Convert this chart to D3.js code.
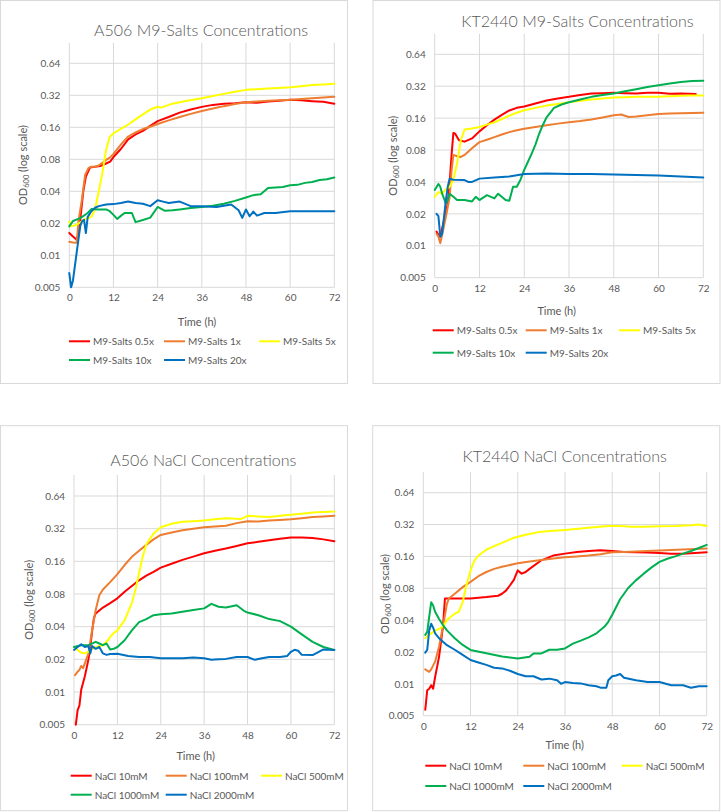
<!DOCTYPE html>
<html><head><meta charset="utf-8">
<script src="https://cdn.jsdelivr.net/npm/d3@7/dist/d3.min.js"></script>
<style>
html,body{margin:0;padding:0;background:#fff;}
svg{display:block;font-family:Lato,"Open Sans",sans-serif;}
</style></head>
<body>
<svg id="chart" width="721" height="812"></svg>
<script>
// ---------- shared axis data ----------
const hourTicks = [0, 12, 24, 36, 48, 60, 72];
const odTicks = [0.005, 0.01, 0.02, 0.04, 0.08, 0.16, 0.32, 0.64];
const odTickLabels = ["0.005", "0.01", "0.02", "0.04", "0.08", "0.16", "0.32", "0.64"];
const titles = ["A506 M9-Salts Concentrations", "KT2440 M9-Salts Concentrations",
                "A506 NaCl Concentrations", "KT2440 NaCl Concentrations"];
const m9Names = ["M9-Salts 0.5x", "M9-Salts 1x", "M9-Salts 5x", "M9-Salts 10x", "M9-Salts 20x"];
const naclNames = ["NaCl 10mM", "NaCl 100mM", "NaCl 500mM", "NaCl 1000mM", "NaCl 2000mM"];
const seriesColors = ["#FF0000", "#ED7D31", "#FFFF00", "#00B050", "#0070C0"];

// ---------- A506 M9-Salts ([hour, OD600]) ----------
const a506M9_05x = [[0,0.0162],[1,0.015],[2,0.014],[2.5,0.016],[3,0.022],[3.8,0.04],[4.5,0.055],[5.6,0.067],[7,0.068],[8.4,0.069],[10,0.073],[11.1,0.076],[12,0.084],[14,0.1],[16,0.123],[18,0.137],[20,0.148],[22,0.165],[24,0.183],[27,0.2],[30,0.22],[33,0.235],[36,0.249],[39,0.26],[42,0.267],[45,0.27],[48,0.275],[51,0.272],[54,0.28],[57,0.285],[60,0.29],[63,0.287],[66,0.282],[69,0.278],[72,0.267]];
const a506M9_1x = [[0,0.0134],[1,0.0132],[2,0.0131],[2.5,0.021],[3.4,0.033],[4.3,0.057],[5.2,0.066],[6,0.068],[7,0.068],[8,0.07],[9,0.074],[10,0.079],[11,0.083],[12,0.09],[14,0.11],[16,0.131],[18,0.143],[20,0.154],[22,0.162],[24,0.172],[27,0.186],[30,0.2],[33,0.214],[36,0.228],[39,0.24],[42,0.253],[45,0.265],[48,0.275],[51,0.28],[54,0.285],[57,0.288],[60,0.29],[63,0.295],[66,0.3],[69,0.305],[72,0.31]];
const a506M9_5x = [[0,0.0207],[0.5,0.0187],[2,0.0194],[4,0.0216],[6,0.023],[7,0.027],[8,0.04],[9,0.06],[10,0.098],[11,0.13],[12,0.14],[14,0.155],[16,0.17],[18,0.19],[20,0.212],[22,0.235],[24,0.25],[25,0.245],[28,0.267],[32,0.285],[36,0.3],[39,0.315],[42,0.33],[45,0.345],[48,0.36],[51,0.365],[54,0.37],[57,0.375],[60,0.38],[63,0.39],[66,0.4],[69,0.405],[72,0.41]];
const a506M9_10x = [[0,0.0187],[1,0.021],[3,0.0224],[5,0.025],[6,0.0272],[8,0.027],[10,0.027],[11,0.026],[12,0.024],[13,0.022],[14,0.0235],[15,0.025],[17,0.025],[18,0.0205],[20,0.0215],[22,0.0226],[24,0.0285],[26,0.0262],[28,0.0265],[30,0.027],[33,0.0278],[36,0.0285],[39,0.0292],[42,0.0306],[45,0.0325],[48,0.035],[50,0.0368],[52,0.0375],[54,0.043],[56,0.0435],[58,0.044],[60,0.0455],[62,0.046],[64,0.048],[66,0.049],[68,0.051],[70,0.052],[72,0.054]];
const a506M9_20x = [[0,0.0068],[0.5,0.005],[1,0.0058],[2,0.0106],[3,0.019],[3.5,0.021],[4,0.0216],[4.5,0.0162],[5,0.023],[6,0.026],[7,0.028],[8,0.029],[10,0.03],[12,0.0303],[14,0.031],[16,0.032],[18,0.031],[20,0.0305],[22,0.029],[24,0.033],[25.5,0.032],[27,0.031],[30,0.032],[33,0.029],[36,0.029],[40,0.0285],[44,0.03],[46,0.0265],[47,0.0225],[48,0.027],[49,0.0233],[50,0.0258],[51,0.0236],[53,0.025],[56,0.025],[60,0.026],[66,0.026],[72,0.026]];

// ---------- KT2440 M9-Salts ----------
const kt2440M9_05x = [[0.5,0.0136],[1,0.0127],[1.5,0.0122],[2.5,0.0175],[3.5,0.025],[4,0.039],[4.5,0.07],[5,0.116],[5.5,0.114],[6.5,0.099],[8,0.096],[10,0.103],[12,0.12],[14,0.137],[16,0.155],[18,0.172],[20,0.189],[22,0.2],[24,0.206],[27,0.22],[30,0.235],[33,0.245],[36,0.254],[39,0.265],[42,0.273],[45,0.275],[48,0.277],[51,0.275],[54,0.273],[57,0.278],[60,0.277],[63,0.272],[66,0.273],[70,0.27]];
const kt2440M9_1x = [[0.5,0.013],[1,0.0122],[1.5,0.0106],[2,0.0127],[3,0.0188],[4,0.0287],[4.5,0.05],[5,0.072],[6,0.07],[7,0.0688],[8,0.072],[10,0.083],[12,0.095],[14,0.1],[16,0.106],[18,0.112],[20,0.118],[22,0.123],[24,0.127],[27,0.132],[30,0.137],[33,0.142],[36,0.146],[39,0.15],[42,0.155],[45,0.162],[48,0.17],[50,0.173],[52,0.164],[54,0.166],[57,0.17],[60,0.175],[63,0.177],[66,0.178],[69,0.179],[72,0.18]];
const kt2440M9_5x = [[0,0.029],[1,0.032],[2,0.031],[3,0.034],[4,0.036],[5,0.042],[6,0.06],[7,0.099],[8,0.125],[10,0.128],[12,0.132],[14,0.139],[16,0.146],[18,0.157],[20,0.169],[22,0.18],[24,0.19],[27,0.2],[30,0.21],[33,0.218],[36,0.226],[39,0.233],[42,0.24],[45,0.245],[48,0.25],[51,0.252],[54,0.254],[57,0.254],[60,0.254],[63,0.257],[66,0.26],[69,0.261],[72,0.262]];
const kt2440M9_10x = [[0,0.0336],[1,0.0383],[1.5,0.036],[2,0.031],[3,0.025],[3.5,0.027],[4,0.031],[5,0.029],[6,0.027],[8,0.027],[10,0.0262],[11,0.029],[12,0.027],[14,0.03],[16,0.028],[17,0.031],[19,0.027],[20,0.0266],[21,0.036],[22,0.036],[23,0.042],[24,0.052],[25,0.062],[26,0.074],[27,0.09],[28,0.114],[29,0.138],[30,0.163],[32,0.2],[34,0.215],[36,0.226],[39,0.24],[42,0.254],[45,0.264],[48,0.273],[51,0.287],[54,0.3],[57,0.315],[60,0.327],[63,0.34],[66,0.35],[69,0.358],[72,0.36]];
const kt2440M9_20x = [[0.5,0.02],[1,0.019],[1.5,0.0122],[2,0.013],[3,0.027],[3.5,0.036],[4,0.043],[5,0.042],[8,0.0417],[9,0.04],[10,0.04],[12,0.043],[16,0.044],[20,0.045],[24,0.0476],[30,0.048],[36,0.0476],[42,0.0475],[48,0.047],[54,0.0465],[60,0.046],[66,0.045],[72,0.044]];

// ---------- A506 NaCl ----------
const a506NaCl_10 = [[0.5,0.005],[1,0.0068],[1.5,0.0075],[2,0.0105],[3,0.014],[4,0.02],[4.5,0.026],[5,0.036],[5.5,0.048],[6,0.053],[8,0.06],[10,0.066],[12,0.073],[14,0.084],[16,0.095],[18,0.107],[20,0.118],[22,0.128],[24,0.14],[27,0.152],[30,0.165],[33,0.177],[36,0.19],[39,0.2],[42,0.21],[45,0.222],[48,0.235],[51,0.242],[54,0.25],[57,0.258],[60,0.265],[63,0.266],[66,0.262],[69,0.255],[72,0.245]];
const a506NaCl_100 = [[0.3,0.0143],[1,0.0154],[1.5,0.016],[2,0.0174],[2.5,0.0166],[3,0.0184],[4,0.0227],[5,0.037],[6,0.057],[7,0.078],[8,0.088],[10,0.103],[12,0.122],[14,0.148],[16,0.176],[18,0.2],[20,0.227],[22,0.255],[24,0.28],[27,0.295],[30,0.31],[33,0.32],[36,0.33],[39,0.335],[42,0.34],[45,0.36],[48,0.375],[51,0.372],[54,0.38],[57,0.385],[60,0.39],[63,0.4],[66,0.41],[69,0.415],[72,0.42]];
const a506NaCl_500 = [[0,0.0262],[1,0.0244],[2,0.023],[3,0.0227],[4,0.0236],[5,0.025],[6,0.026],[8,0.027],[9,0.029],[10,0.032],[11,0.035],[12,0.037],[14,0.046],[16,0.066],[17,0.087],[18,0.125],[19,0.176],[20,0.23],[22,0.288],[24,0.33],[27,0.355],[30,0.37],[33,0.375],[36,0.38],[39,0.39],[42,0.4],[45,0.395],[46,0.39],[48,0.42],[51,0.415],[54,0.41],[57,0.42],[60,0.43],[63,0.44],[66,0.45],[69,0.455],[72,0.46]];
const a506NaCl_1000 = [[0,0.026],[2,0.027],[4,0.027],[6,0.029],[7,0.028],[8,0.027],[9,0.028],[10,0.0247],[11,0.025],[12,0.026],[14,0.03],[16,0.037],[18,0.044],[20,0.047],[22,0.051],[24,0.052],[27,0.053],[30,0.055],[33,0.057],[36,0.059],[38,0.065],[40,0.061],[42,0.06],[45,0.063],[47,0.056],[48,0.054],[51,0.051],[54,0.047],[57,0.045],[60,0.04],[63,0.034],[66,0.029],[69,0.026],[72,0.0244]];
const a506NaCl_2000 = [[0,0.0244],[1,0.026],[2,0.0276],[3,0.026],[4,0.0265],[4.5,0.0227],[5,0.0265],[6,0.025],[7,0.026],[8,0.0227],[9,0.022],[10,0.0224],[12,0.0225],[15,0.0215],[18,0.021],[21,0.021],[24,0.0205],[27,0.0205],[30,0.0205],[33,0.0208],[36,0.0205],[38,0.0198],[40,0.02],[42,0.0202],[45,0.021],[48,0.021],[50,0.0198],[52,0.0205],[54,0.021],[57,0.021],[59,0.0215],[60,0.0235],[61,0.0245],[62,0.024],[63,0.022],[66,0.0219],[69,0.0247],[72,0.0244]];

// ---------- KT2440 NaCl ----------
const kt2440NaCl_10 = [[0.5,0.0057],[1,0.0087],[1.5,0.009],[2,0.0097],[2.5,0.009],[3,0.0116],[4,0.018],[5,0.035],[5.5,0.064],[8,0.064],[12,0.064],[16,0.066],[19,0.068],[20,0.071],[21,0.076],[22,0.085],[23,0.096],[24,0.118],[25,0.11],[26,0.114],[27,0.122],[30,0.147],[33,0.163],[36,0.17],[39,0.176],[42,0.18],[45,0.183],[48,0.18],[51,0.176],[54,0.175],[57,0.174],[60,0.172],[63,0.17],[66,0.17],[69,0.172],[72,0.175]];
const kt2440NaCl_100 = [[0.5,0.0137],[1.5,0.013],[2,0.0137],[3,0.0162],[4,0.0224],[5,0.035],[6,0.057],[6.5,0.064],[8,0.071],[10,0.082],[12,0.092],[14,0.104],[16,0.114],[18,0.122],[20,0.128],[24,0.138],[27,0.143],[30,0.148],[33,0.153],[36,0.157],[39,0.16],[42,0.163],[45,0.168],[48,0.175],[51,0.176],[54,0.178],[57,0.18],[60,0.182],[63,0.184],[66,0.186],[69,0.188],[72,0.19]];
const kt2440NaCl_500 = [[0.5,0.027],[1,0.028],[2,0.03],[3,0.032],[4,0.033],[5,0.035],[6,0.04],[7,0.043],[8,0.046],[9,0.048],[10,0.059],[11,0.087],[12,0.118],[13,0.147],[14,0.163],[16,0.185],[18,0.2],[20,0.215],[23,0.24],[26,0.256],[29,0.27],[32,0.278],[36,0.285],[40,0.293],[44,0.303],[47,0.31],[50,0.31],[53,0.305],[56,0.305],[60,0.308],[64,0.31],[68,0.315],[70,0.32],[72,0.31]];
const kt2440NaCl_1000 = [[0.5,0.029],[1,0.031],[1.5,0.043],[2,0.059],[2.5,0.055],[3,0.048],[4,0.041],[5,0.036],[6,0.032],[8,0.027],[10,0.0233],[12,0.0209],[16,0.0195],[20,0.0181],[24,0.0174],[27,0.018],[28,0.0194],[30,0.0194],[32,0.021],[34,0.021],[36,0.0216],[38,0.024],[40,0.0256],[42,0.0275],[44,0.03],[46,0.0346],[47,0.0386],[48,0.045],[50,0.063],[52,0.08],[54,0.095],[56,0.11],[58,0.126],[60,0.142],[62,0.152],[64,0.16],[66,0.17],[68,0.18],[70,0.192],[72,0.206]];
const kt2440NaCl_2000 = [[0.5,0.0197],[1,0.021],[1.5,0.032],[2,0.037],[2.5,0.034],[3,0.03],[4,0.027],[6,0.0232],[8,0.021],[10,0.0188],[12,0.0168],[14,0.0159],[16,0.0151],[18,0.0142],[20,0.014],[22,0.0133],[24,0.0124],[26,0.0118],[28,0.0118],[30,0.011],[32,0.0112],[34,0.0108],[35,0.01],[36,0.0104],[38,0.0102],[40,0.0101],[42,0.0097],[44,0.0095],[45,0.0092],[46.5,0.0092],[47,0.0108],[48,0.0118],[49,0.012],[50,0.0124],[51,0.0114],[54,0.0108],[57,0.0104],[60,0.0104],[63,0.0097],[66,0.0097],[68,0.0092],[70,0.0095],[72,0.0095]];

// ---------- layout (positions only) ----------
const panels = [
  { title: titles[0], names: m9Names,
    series: [a506M9_05x, a506M9_1x, a506M9_5x, a506M9_10x, a506M9_20x],
    frame: [0.5, 0.5, 347, 383], x0: 69.3, x1: 334.3, yb: 287.3, y64: 63.3,
    titleXY: [201, 29], yTitleX: 22, xTitleY: 321.7, xTitleX: 197,
    legRows: [341.3, 360], legCols: [69, 164, 259] },
  { title: titles[1], names: m9Names,
    series: [kt2440M9_05x, kt2440M9_1x, kt2440M9_5x, kt2440M9_10x, kt2440M9_20x],
    frame: [373, 0.5, 347, 383], x0: 434.7, x1: 703.3, yb: 277.7, y64: 54.3,
    titleXY: [577.5, 20], yTitleX: 392, xTitleY: 310.7, xTitleX: 556.7,
    legRows: [330.3, 352.7], legCols: [432.7, 525.7, 619] },
  { title: titles[2], names: naclNames,
    series: [a506NaCl_10, a506NaCl_100, a506NaCl_500, a506NaCl_1000, a506NaCl_2000],
    frame: [0.5, 425.7, 347, 385], x0: 74, x1: 334.3, yb: 724.7, y64: 496,
    titleXY: [203.3, 459.3], yTitleX: 28, xTitleY: 755.3, xTitleX: 195.7,
    legRows: [775.7, 794.7], legCols: [70.7, 165.7, 261] },
  { title: titles[3], names: naclNames,
    series: [kt2440NaCl_10, kt2440NaCl_100, kt2440NaCl_500, kt2440NaCl_1000, kt2440NaCl_2000],
    frame: [372.7, 425.7, 347, 385], x0: 423.3, x1: 706.7, yb: 715.7, y64: 492.7,
    titleXY: [564.7, 455.7], yTitleX: 384, xTitleY: 744.3, xTitleX: 564.7,
    legRows: [765.7, 786], legCols: [425.3, 523.3, 621.7] }
];

const svg = d3.select("#chart");
const txt = "#595959", grid = "#d9d9d9";

panels.forEach(p => {
  const g = svg.append("g");
  g.append("rect").attr("x", p.frame[0]).attr("y", p.frame[1])
    .attr("width", p.frame[2]).attr("height", p.frame[3])
    .attr("fill", "#fff").attr("stroke", grid).attr("stroke-width", 1);

  const x = d3.scaleLinear().domain([0, 72]).range([p.x0, p.x1]);
  const perDoubling = (p.yb - p.y64) / 7;
  const yTop = p.yb - perDoubling * Math.log2(1 / 0.005);
  const y = d3.scaleLog().base(2).domain([0.005, 1]).range([p.yb, yTop]);

  // gridlines
  g.selectAll(".hg").data(odTicks).enter().append("line")
    .attr("x1", p.x0).attr("x2", p.x1)
    .attr("y1", d => y(d)).attr("y2", d => y(d))
    .attr("stroke", grid).attr("stroke-width", 1);
  g.selectAll(".vg").data(hourTicks).enter().append("line")
    .attr("x1", d => x(d)).attr("x2", d => x(d))
    .attr("y1", y(1)).attr("y2", p.yb)
    .attr("stroke", grid).attr("stroke-width", 1);

  // axes (labels only, via d3 axis generators)
  const ya = d3.axisLeft(y).tickValues(odTicks).tickSize(0).tickPadding(9)
    .tickFormat((d, i) => odTickLabels[i]);
  const yg = g.append("g").attr("transform", `translate(${p.x0},0)`).call(ya);
  const xa = d3.axisBottom(x).tickValues(hourTicks).tickSize(0).tickPadding(7);
  const xg = g.append("g").attr("transform", `translate(0,${p.yb})`).call(xa);
  [yg, xg].forEach(a => {
    a.select(".domain").remove();
    a.selectAll("text").attr("fill", txt).style("font-size", "10px")
      .style("font-family", "Lato, 'Open Sans', sans-serif");
  });

  // series lines
  const line = d3.line().x(d => x(d[0])).y(d => y(d[1]));
  p.series.forEach((s, i) => {
    g.append("path").datum(s).attr("d", line).attr("fill", "none")
      .attr("stroke", seriesColors[i]).attr("stroke-width", 2)
      .attr("stroke-linejoin", "round").attr("stroke-linecap", "round");
  });

  // title
  g.append("text").attr("x", p.titleXY[0]).attr("y", p.titleXY[1])
    .attr("text-anchor", "middle").attr("dominant-baseline", "central")
    .attr("fill", txt).style("font-size", "16px").style("font-weight", "300").text(p.title);

  // x title
  g.append("text").attr("x", p.xTitleX).attr("y", p.xTitleY)
    .attr("text-anchor", "middle").attr("dominant-baseline", "central")
    .attr("fill", txt).style("font-size", "11px").text("Time (h)");

  // y title
  const cy = (y(1) + p.yb) / 2;
  const yt = g.append("text")
    .attr("transform", `translate(${p.yTitleX},${cy}) rotate(-90)`)
    .attr("text-anchor", "middle").attr("dominant-baseline", "central")
    .attr("fill", txt).style("font-size", "11px");
  yt.append("tspan").text("OD");
  yt.append("tspan").attr("baseline-shift", "sub").style("font-size", "7.5px").text("600");
  yt.append("tspan").text(" (log scale)");

  // legend
  p.names.forEach((n, i) => {
    const r = Math.floor(i / 3), c = i % 3;
    const lx = p.legCols[c], ly = p.legRows[r];
    g.append("line").attr("x1", lx).attr("x2", lx + 21).attr("y1", ly).attr("y2", ly)
      .attr("stroke", seriesColors[i]).attr("stroke-width", 2);
    g.append("text").attr("x", lx + 24).attr("y", ly).attr("dominant-baseline", "central")
      .attr("fill", txt).style("font-size", "10px").text(n);
  });
});
</script>
</body></html>
